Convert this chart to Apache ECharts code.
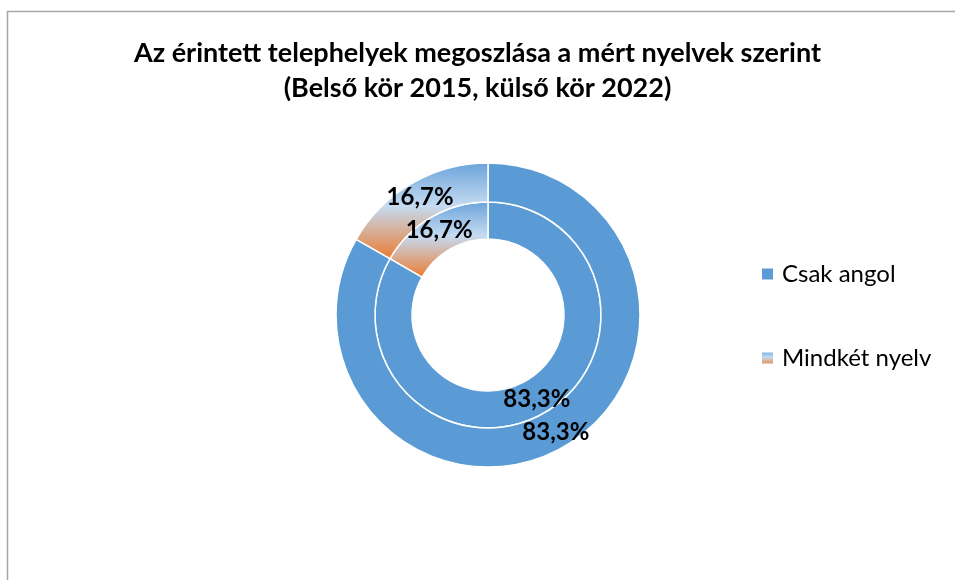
<!DOCTYPE html>
<html>
<head>
<meta charset="utf-8">
<script src="https://cdn.jsdelivr.net/npm/echarts@6/dist/echarts.min.js"></script>
<style>
html, body { margin: 0; padding: 0; background: #fff; }
#chart { width: 955px; height: 580px; }
</style>
</head>
<body>
<div id="chart"></div>
<script>
// adatok
var categories = ['Csak angol', 'Mindkét nyelv'];
var values2015 = [83.3, 16.7];   // belső kör
var values2022 = [83.3, 16.7];   // külső kör

var blue = '#5b9bd5';
var grad = new echarts.graphic.LinearGradient(0, 0, 0, 1, [
	{ offset: 0, color: '#6aa3da' },
	{ offset: 0.45, color: '#c5dbf2' },
	{ offset: 1, color: '#ec7b30' }
]);
var colors = [blue, grad];

function makeData(vals) {
	return vals.map(function (v, i) {
		return { name: categories[i], value: v, itemStyle: { color: colors[i] } };
	});
}

var labelStyle = {
	show: true,
	position: 'inside',
	formatter: function (p) { return p.value.toFixed(1).replace('.', ',') + '%'; },
	fontFamily: 'Lato',
	fontWeight: 'bold',
	fontSize: 24,
	color: '#000'
};

var myChart = echarts.init(document.getElementById('chart'));
myChart.setOption({
	animation: false,
	title: {
		text: 'Az érintett telephelyek megoszlása a mért nyelvek szerint\n(Belső kör 2015, külső kör 2022)',
		left: 'center',
		top: 36,
		padding: 0,
		textStyle: {
			fontFamily: 'Lato',
			fontWeight: 'bold',
			fontSize: 27,
			lineHeight: 35,
			color: '#000'
		}
	},
	legend: {
		orient: 'vertical',
		left: 760,
		top: 262,
		padding: 0,
		itemWidth: 13,
		itemHeight: 13,
		itemGap: 60,
		icon: 'rect',
		textStyle: { fontFamily: 'Lato', fontSize: 24, color: '#000', padding: [0, 0, 0, 3] },
		data: categories
	},
	graphic: [{
		type: 'rect',
		shape: { x: 7.5, y: 11.5, width: 1000, height: 700 },
		style: { fill: 'none', stroke: '#a6a6a6', lineWidth: 1.5 },
		silent: true
	}],
	series: [{
		name: '2015',
		type: 'pie',
		center: [488, 315],
		radius: [76, 113],
		startAngle: 90,
		clockwise: true,
		itemStyle: { borderColor: '#fff', borderWidth: 1.5 },
		label: labelStyle,
		labelLine: { show: false },
		emphasis: { disabled: true },
		data: makeData(values2015)
	}, {
		name: '2022',
		type: 'pie',
		center: [488, 315],
		radius: [113, 152],
		startAngle: 90,
		clockwise: true,
		itemStyle: { borderColor: '#fff', borderWidth: 1.5 },
		label: labelStyle,
		labelLine: { show: false },
		emphasis: { disabled: true },
		data: makeData(values2022)
	}]
});
</script>
</body>
</html>
